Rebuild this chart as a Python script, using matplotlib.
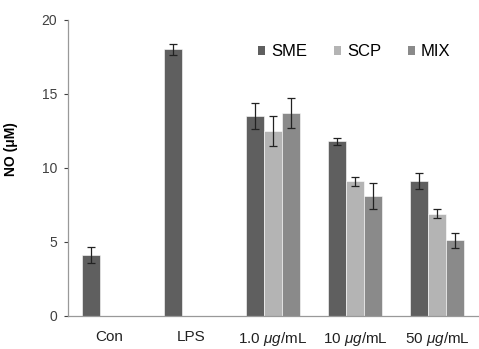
import numpy as np
import matplotlib
matplotlib.use("Agg")
from matplotlib import pyplot as plt

plt.rcParams['font.family'] = ['Liberation Sans', 'DejaVu Sans']
plt.rcParams['mathtext.fontset'] = 'custom'
plt.rcParams['mathtext.it'] = 'Liberation Sans:italic'

categories = ["Con", "LPS", "1.0 $\\mu g$/mL", "10 $\\mu g$/mL", "50 $\\mu g$/mL"]
series = ["SME", "SCP", "MIX"]
sme = [4.1, 18.0, 13.5, 11.8, 9.1]
sme_err = [0.55, 0.35, 0.9, 0.25, 0.55]
scp = [np.nan, np.nan, 12.5, 9.1, 6.9]
scp_err = [np.nan, np.nan, 1.0, 0.3, 0.3]
mix = [np.nan, np.nan, 13.7, 8.1, 5.1]
mix_err = [np.nan, np.nan, 1.0, 0.9, 0.5]
colors = ["#5f5f5f", "#b4b4b4", "#8a8a8a"]


def main():
    fig = plt.figure(figsize=(4.79, 3.49), dpi=100)
    ax = fig.add_axes([0.142, 0.095, 0.856, 0.848])
    x = np.arange(len(categories))
    w = 0.223
    vals = [sme, scp, mix]
    errs = [sme_err, scp_err, mix_err]
    for i, name in enumerate(series):
        ax.bar(x + (i - 1) * w, vals[i], w, color=colors[i], label=name,
               edgecolor='white', linewidth=0.4)
        ax.errorbar(x + (i - 1) * w, vals[i], yerr=errs[i], fmt='none',
                    ecolor='#222222', elinewidth=0.9, capsize=3, capthick=0.9)
    ax.set_xlim(-0.5, 4.5)
    ax.set_ylim(0, 20)
    ax.set_yticks([0, 5, 10, 15, 20])
    ax.set_xticks(x)
    ax.set_xticklabels(categories, fontsize=11, color='#222222')
    ax.tick_params(axis='x', length=0, pad=10)
    ax.tick_params(axis='y', labelsize=10, colors='#404040', length=3,
                   width=0.8, direction='out', pad=5)
    for s in ['top', 'right']:
        ax.spines[s].set_visible(False)
    for s in ['left', 'bottom']:
        ax.spines[s].set_color('#999999')
        ax.spines[s].set_linewidth(0.9)
    ax.set_ylabel("NO (\u03bcM)", fontsize=10, fontweight='bold')
    ax.yaxis.set_label_coords(-0.122, 0.564)
    leg = ax.legend(loc='upper left', bbox_to_anchor=(0.446, 0.94), ncol=3,
                    frameon=False, fontsize=12, handlelength=0.45,
                    handleheight=0.45, handletextpad=0.35, columnspacing=1.6,
                    borderaxespad=0)
    for h in leg.legend_handles:
        h.set_linewidth(0)
    fig.savefig("out.png", dpi=100)


if __name__ == "__main__":
    main()
